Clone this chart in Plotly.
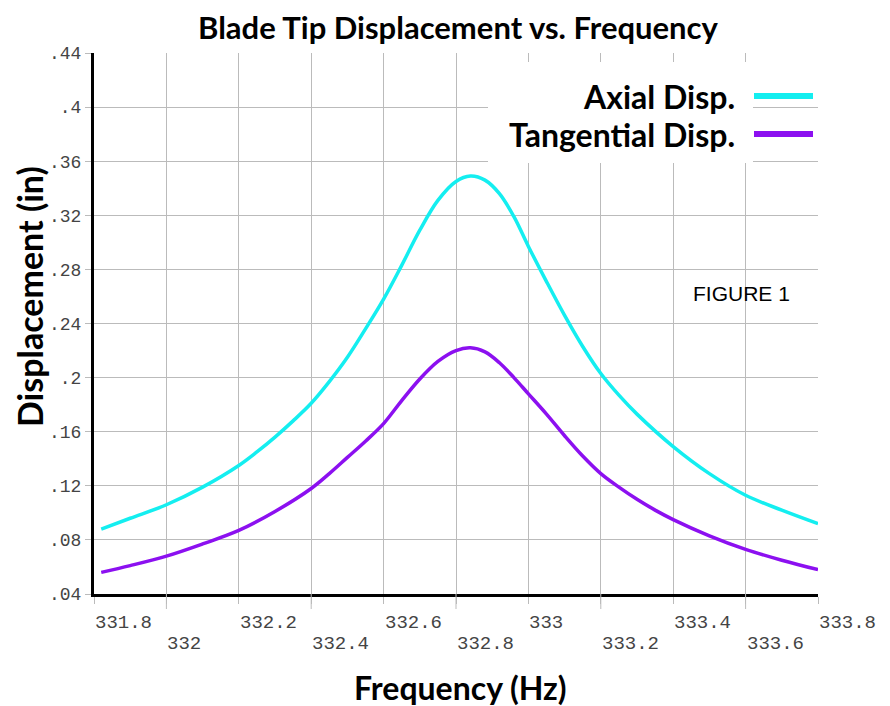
import plotly.graph_objects as go

# ---- data ----
axial_freq = [331.82, 331.9, 332.0, 332.1, 332.2, 332.25, 332.3, 332.35, 332.4, 332.45,
              332.5, 332.55, 332.6, 332.65, 332.7, 332.75, 332.8, 332.84, 332.88, 332.92,
              332.96, 333.0, 333.05, 333.1, 333.15, 333.2, 333.25, 333.3, 333.4, 333.5,
              333.6, 333.7, 333.8]
axial = [0.088, 0.096, 0.106, 0.119, 0.135, 0.145, 0.156, 0.168, 0.181, 0.197,
         0.215, 0.236, 0.258, 0.283, 0.309, 0.331, 0.345, 0.349, 0.346, 0.336,
         0.319, 0.297, 0.271, 0.246, 0.223, 0.203, 0.187, 0.173, 0.149, 0.129,
         0.113, 0.102, 0.092]
tangential_freq = [331.82, 331.9, 332.0, 332.1, 332.2, 332.3, 332.4, 332.45, 332.5, 332.55,
                   332.6, 332.65, 332.7, 332.75, 332.8, 332.84, 332.88, 332.92, 332.96, 333.0,
                   333.05, 333.1, 333.15, 333.2, 333.25, 333.3, 333.35, 333.4, 333.5, 333.6,
                   333.7, 333.8]
tangential = [0.056, 0.061, 0.068, 0.077, 0.087, 0.101, 0.118, 0.129, 0.141, 0.153,
              0.166, 0.183, 0.199, 0.212, 0.220, 0.222, 0.219, 0.211, 0.200, 0.188,
              0.173, 0.157, 0.142, 0.129, 0.119, 0.110, 0.102, 0.095, 0.083, 0.073,
              0.065, 0.058]
series_names = ["Axial Disp.", "Tangential Disp."]
series_colors = ["#14EEF0", "#8C10F0"]

x_ticks = [331.8, 332.0, 332.2, 332.4, 332.6, 332.8, 333.0, 333.2, 333.4, 333.6, 333.8]
x_tick_labels = ["331.8", "332", "332.2", "332.4", "332.6", "332.8", "333", "333.2",
                 "333.4", "333.6", "333.8"]
y_ticks = [0.04, 0.08, 0.12, 0.16, 0.20, 0.24, 0.28, 0.32, 0.36, 0.40, 0.44]
y_tick_labels = [".04", ".08", ".12", ".16", ".2", ".24", ".28", ".32", ".36", ".4", ".44"]

# page has an 8px body margin; figure sized so that the plot area lands at 94..818 x 53..594
OFF = 8
W, H = 890 - OFF, 706 - OFF
PX0, PX1, PY0, PY1 = 94, 818, 53, 594
PW, PH = PX1 - PX0, PY1 - PY0
L, T = PX0 - OFF, PY0 - OFF
R = W - L - PW
B = H - T - PH


def px(x):
    return (x - PX0) / PW


def py(y):
    return (PY1 - y) / PH


fig = go.Figure()
for name, xs, ys, col in zip(series_names, [axial_freq, tangential_freq], [axial, tangential], series_colors):
    fig.add_trace(go.Scatter(x=xs, y=ys, mode="lines", name=name,
                             line=dict(color=col, width=3.5, shape="spline", smoothing=1.0),
                             showlegend=False))

mono = "Liberation Mono, Courier New, monospace"
bold = "Lato, Open Sans, sans-serif"
grid = "#BBBBBB"

fig.update_layout(
    width=W, height=H, margin=dict(l=L, r=R, t=T, b=B),
    paper_bgcolor="white", plot_bgcolor="white",
    xaxis=dict(range=[331.8, 333.8], tickvals=x_ticks, showticklabels=False,
               showgrid=True, gridcolor=grid, gridwidth=1,
               ticks="outside", ticklen=7, tickcolor=grid, tickwidth=1,
               showline=True, linecolor="black", linewidth=3, zeroline=False),
    yaxis=dict(range=[0.04, 0.44], tickvals=y_ticks, ticktext=y_tick_labels,
               showgrid=True, gridcolor=grid, gridwidth=1,
               ticks="outside", ticklen=6, tickcolor=grid, tickwidth=1,
               tickfont=dict(family=mono, size=18, color="#444444"),
               showline=True, linecolor="black", linewidth=3, zeroline=False),
    showlegend=False,
)

ann = []
# x tick labels in two alternating rows, left aligned at the tick
for i, (v, t) in enumerate(zip(x_ticks, x_tick_labels)):
    ann.append(dict(x=v, y=0, xref="x", yref="paper", text=t, showarrow=False,
                    xanchor="left", yanchor="middle", xshift=-1,
                    yshift=-29 if i % 2 == 0 else -50,
                    font=dict(family=mono, size=19, color="#444444")))
    if i % 2 == 1:
        fig.add_shape(type="line", x0=v, x1=v, xref="x", yref="paper",
                      y0=0, y1=-15 / PH, line=dict(color=grid, width=1))

# titles
ann.append(dict(x=px(458), y=py(27), xref="paper", yref="paper",
                text="<b>Blade Tip Displacement vs. Frequency</b>",
                showarrow=False, xanchor="center", yanchor="middle",
                font=dict(family=bold, size=31, color="black")))
ann.append(dict(x=px(461), y=py(687), xref="paper", yref="paper", text="<b>Frequency (Hz)</b>",
                showarrow=False, xanchor="center", yanchor="middle",
                font=dict(family=bold, size=32, color="black")))
ann.append(dict(x=px(29), y=py(297), xref="paper", yref="paper", text="<b>Displacement (in)</b>",
                showarrow=False, xanchor="center", yanchor="middle", textangle=-90,
                font=dict(family=bold, size=34, color="black")))
ann.append(dict(x=px(741), y=py(293), xref="paper", yref="paper", text="FIGURE 1",
                showarrow=False, xanchor="center", yanchor="middle",
                font=dict(family="Liberation Sans, Arial, sans-serif", size=21, color="black")))

# legend: white box, right-aligned labels, line samples
fig.add_shape(type="rect", xref="paper", yref="paper",
              x0=px(488), x1=px(753), y0=py(163), y1=py(62),
              fillcolor="white", line=dict(width=0), layer="above")
leg_y = [96, 134]
for name, col, yy in zip(series_names, series_colors, leg_y):
    ann.append(dict(x=px(737), y=py(yy), xref="paper", yref="paper",
                    text="<b>" + name + "</b>", showarrow=False, xanchor="right", yanchor="middle",
                    font=dict(family=bold, size=32, color="black")))
    fig.add_shape(type="line", xref="paper", yref="paper",
                  x0=px(754), x1=px(813), y0=py(yy), y1=py(yy),
                  line=dict(color=col, width=6), layer="above")

fig.update_layout(annotations=ann)
fig.write_html("out.html")
